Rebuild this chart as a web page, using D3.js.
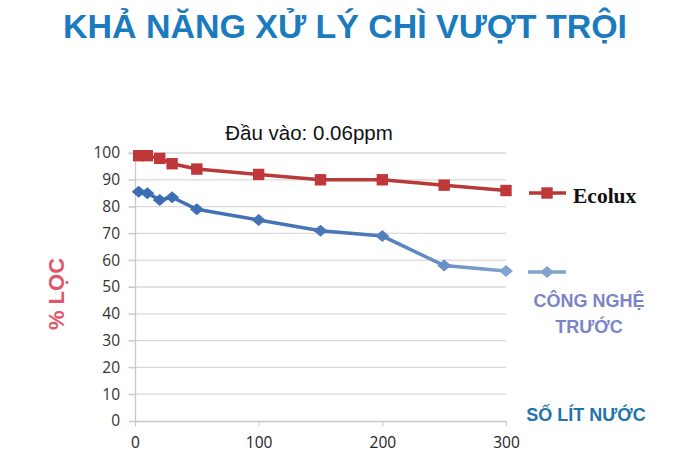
<!DOCTYPE html>
<html><head><meta charset="utf-8">
<script src="https://cdn.jsdelivr.net/npm/d3@7"></script>
<style>body{margin:0;background:#fff}svg{display:block}</style>
</head><body>
<svg id="c" width="700" height="464"></svg>
<script>
const xValues = [3, 10, 20, 30, 50, 100, 150, 200, 250, 300];
const ecoluxValues = [99, 99, 98, 96, 94, 92, 90, 90, 88, 86];
const oldTechValues = [85.5, 85, 82.5, 83.5, 79, 75, 71, 69, 58, 56];
const yTicks = [0, 10, 20, 30, 40, 50, 60, 70, 80, 90, 100];
const yTickLabels = ["0","10","20","30","40","50","60","70","80","90","100"];
const xTicks = [0, 100, 200, 300];
const xTickLabels = ["0","100","200","300"];
const seriesNames = ["Ecolux", "CÔNG NGHỆ", "TRƯỚC"];

const svg = d3.select("#c");
const x = d3.scaleLinear().domain([0, 300]).range([135, 506]);
const y = d3.scaleLinear().domain([0, 100]).range([421, 153]);

const defs = svg.append("defs");
const grad = defs.append("linearGradient").attr("id","bg").attr("gradientUnits","userSpaceOnUse")
  .attr("x1",135).attr("x2",506).attr("y1",0).attr("y2",0);
grad.append("stop").attr("offset","0%").attr("stop-color","#3b6cb4");
grad.append("stop").attr("offset","60%").attr("stop-color","#4a78b8");
grad.append("stop").attr("offset","100%").attr("stop-color","#80a3d0");

// title
svg.append("text").attr("x",345).attr("y",38).attr("text-anchor","middle")
  .attr("font-family","'Liberation Sans Narrow', 'Liberation Sans', Arial, sans-serif")
  .attr("font-weight","bold").attr("font-size",34).attr("fill","#1b7bbf")
  .attr("textLength",564).attr("lengthAdjust","spacingAndGlyphs")
  .text("KHẢ NĂNG XỬ LÝ CHÌ VƯỢT TRỘI");

svg.append("text").attr("x",309).attr("y",140).attr("text-anchor","middle")
  .attr("font-family","'Liberation Sans', Arial, sans-serif").attr("font-size",20.5).attr("fill","#111")
  .text("Đầu vào: 0.06ppm");

// grid
const gridG = svg.append("g");
gridG.selectAll("line").data(yTicks.filter(d=>d>0)).join("line")
  .attr("x1",128).attr("x2",506).attr("y1",d=>y(d)).attr("y2",d=>y(d))
  .attr("stroke","#d9d9d9").attr("stroke-width",1.3);

// y axis
const yAxis = d3.axisLeft(y).tickValues(yTicks).tickFormat((d,i)=>yTickLabels[i]).tickSize(6).tickPadding(9);
const yg = svg.append("g").attr("transform","translate(135,0)").call(yAxis);
yg.select(".domain").attr("stroke","#c8c8c8").attr("stroke-width",1.3);
yg.selectAll(".tick line").attr("stroke","#c8c8c8");
yg.selectAll("text").attr("font-family","'Open Sans', 'Liberation Sans', sans-serif").attr("font-size",15.5).attr("fill","#333");

// x axis
const xAxis = d3.axisBottom(x).tickValues(xTicks).tickFormat((d,i)=>xTickLabels[i]).tickSize(5).tickPadding(11).tickSizeOuter(0);
const xg = svg.append("g").attr("transform","translate(0,421)").call(xAxis);
xg.select(".domain").attr("stroke","#c8c8c8").attr("stroke-width",1.3);
xg.selectAll(".tick line").attr("stroke","#c8c8c8");
xg.selectAll("text").attr("font-family","'Open Sans', 'Liberation Sans', sans-serif").attr("font-size",15.5).attr("fill","#222");

// lines
const line = d3.line().x(d=>x(d[0])).y(d=>y(d[1]));
const redData = xValues.map((v,i)=>[v, ecoluxValues[i]]);
const blueData = xValues.map((v,i)=>[v, oldTechValues[i]]);
svg.append("path").attr("d",line(redData)).attr("fill","none").attr("stroke","#b83a36").attr("stroke-width",3.5);
svg.append("path").attr("d",line(blueData)).attr("fill","none").attr("stroke","url(#bg)").attr("stroke-width",3.5);

const sq = d3.symbol().type(d3.symbolSquare).size(130);
const dm = d3.symbol().type(d3.symbolSquare).size(80);
svg.append("g").selectAll("path").data(redData).join("path")
  .attr("d",sq).attr("transform",d=>`translate(${x(d[0])},${y(d[1])})`).attr("fill","#c0373a");
const blueColor = d3.scaleLinear().domain([0,180,300]).range(["#3b6cb4","#4a78b8","#80a3d0"]);
svg.append("g").selectAll("path").data(blueData).join("path")
  .attr("d",dm).attr("transform",d=>`translate(${x(d[0])},${y(d[1])}) scale(1.1,0.95) rotate(45)`).attr("fill",d=>blueColor(d[0]));

// legend
svg.append("line").attr("x1",529).attr("x2",566).attr("y1",193).attr("y2",193).attr("stroke","#b83a36").attr("stroke-width",3.5);
svg.append("path").attr("d",sq).attr("transform","translate(547,193)").attr("fill","#c0373a");
svg.append("text").attr("x",573).attr("y",203).attr("font-family","'Liberation Serif', 'Times New Roman', serif")
  .attr("font-weight","bold").attr("font-size",21.5).attr("fill","#111").text(seriesNames[0]);

svg.append("line").attr("x1",528).attr("x2",566).attr("y1",272).attr("y2",272).attr("stroke","#80a3d0").attr("stroke-width",3.5);
svg.append("path").attr("d",dm).attr("transform","translate(547,272) scale(1.1,0.95) rotate(45)").attr("fill","#80a3d0");
svg.append("text").attr("x",589).attr("y",307).attr("text-anchor","middle").attr("font-family","'Liberation Sans', Arial, sans-serif")
  .attr("font-weight","bold").attr("font-size",18).attr("fill","#7b84c6").text(seriesNames[1]);
svg.append("text").attr("x",589).attr("y",333).attr("text-anchor","middle").attr("font-family","'Liberation Sans', Arial, sans-serif")
  .attr("font-weight","bold").attr("font-size",18).attr("fill","#7b84c6").text(seriesNames[2]);

svg.append("text").attr("x",586).attr("y",421).attr("text-anchor","middle").attr("font-family","'Liberation Sans', Arial, sans-serif")
  .attr("font-weight","bold").attr("font-size",18).attr("fill","#1f74ad").text("SỐ LÍT NƯỚC");

svg.append("text").attr("transform","translate(64,294) rotate(-90)").attr("text-anchor","middle")
  .attr("font-family","'Liberation Sans', Arial, sans-serif").attr("font-weight","bold").attr("font-size",22)
  .attr("fill","#e0566a").text("% LỌC");
</script>
</body></html>
